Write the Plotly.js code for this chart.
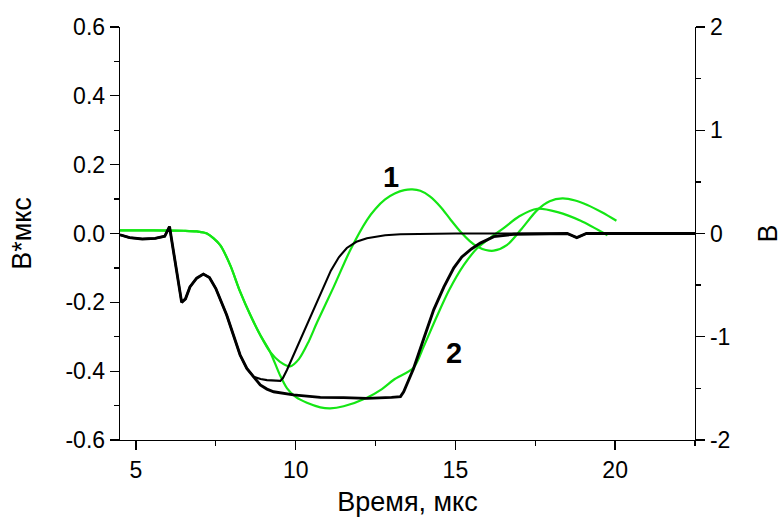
<!DOCTYPE html>
<html>
<head>
<meta charset="utf-8">
<script src="https://cdn.plot.ly/plotly-3.0.1.min.js"></script>
<style>html,body{margin:0;padding:0;background:#fff;}#chart{width:783px;height:525px;}</style>
</head>
<body>
<div id="chart"></div>
<script>
// ---- Data (time in мкс) ----
// Green curves, left axis (В*мкс)
var tGreen1 = [4.5, 5.5, 6.5, 6.9, 7.22, 7.63, 7.95, 8.26, 8.58, 8.89, 9.2, 9.5, 9.83, 10.1, 10.4, 10.67, 11.19, 11.71, 12.23, 12.5, 12.8, 13.1, 13.4, 13.65, 13.9, 14.2, 14.53, 14.85, 15.16, 15.45, 15.68, 15.95, 16.2, 16.62, 17.04, 17.56, 17.95, 18.35, 18.75, 19.13, 19.6, 20.04];
var vGreen1 = [0.009, 0.009, 0.008, 0.006, 0.0, -0.033, -0.092, -0.169, -0.237, -0.295, -0.344, -0.372, -0.386, -0.365, -0.315, -0.258, -0.155, -0.048, 0.039, 0.072, 0.099, 0.116, 0.126, 0.128, 0.124, 0.108, 0.078, 0.04, 0.005, -0.022, -0.038, -0.048, -0.05, -0.033, 0.01, 0.068, 0.094, 0.102, 0.096, 0.083, 0.061, 0.037];

var tGreen2 = [4.5, 5.5, 6.5, 6.9, 7.22, 7.63, 7.95, 8.26, 8.58, 8.89, 9.2, 9.5, 9.73, 10.0, 10.35, 10.77, 11.08, 11.5, 12.23, 12.7, 13.07, 13.69, 14.0, 14.4, 14.8, 15.26, 15.68, 16.1, 16.5, 17.0, 17.56, 18.2, 18.92, 19.76];
var vGreen2 = [0.009, 0.009, 0.008, 0.006, 0.0, -0.033, -0.092, -0.169, -0.237, -0.295, -0.344, -0.41, -0.45, -0.475, -0.492, -0.505, -0.508, -0.502, -0.477, -0.452, -0.425, -0.39, -0.33, -0.245, -0.165, -0.092, -0.043, -0.012, 0.015, 0.05, 0.072, 0.062, 0.037, -0.005];

// Black curves, right axis (В)
var tBlack1 = [4.5, 4.8, 5.2, 5.6, 5.9, 6.05, 6.43, 6.55, 6.69, 6.9, 7.11, 7.3, 7.5, 7.63, 7.84, 8.05, 8.26, 8.47, 8.68, 8.9, 9.1, 9.52, 9.6, 9.73, 10.14, 10.56, 10.85, 11.1, 11.35, 11.6, 11.9, 12.23, 12.8, 13.28, 15.0, 18.5, 18.8, 19.1, 22.5];
var vBlack1 = [-0.013, -0.04, -0.053, -0.047, -0.027, 0.067, -0.667, -0.633, -0.517, -0.433, -0.393, -0.427, -0.533, -0.627, -0.79, -0.983, -1.177, -1.307, -1.387, -1.41, -1.42, -1.427, -1.4, -1.32, -1.03, -0.74, -0.53, -0.36, -0.23, -0.14, -0.08, -0.045, -0.017, -0.007, 0.0, 0.0, -0.04, 0.0, 0.0];

var tBlack2 = [4.5, 4.8, 5.2, 5.6, 5.9, 6.05, 6.43, 6.55, 6.69, 6.9, 7.11, 7.3, 7.5, 7.63, 7.84, 8.05, 8.26, 8.47, 8.68, 8.89, 9.1, 9.31, 9.93, 10.77, 11.5, 12.23, 13.0, 13.28, 13.38, 13.69, 14.01, 14.32, 14.64, 14.95, 15.2, 15.5, 15.78, 16.2, 16.83, 18.5, 18.8, 19.1, 22.5];
var vBlack2 = [-0.013, -0.04, -0.053, -0.047, -0.027, 0.067, -0.667, -0.633, -0.517, -0.433, -0.393, -0.427, -0.533, -0.627, -0.79, -0.983, -1.177, -1.307, -1.387, -1.467, -1.507, -1.533, -1.563, -1.587, -1.59, -1.597, -1.587, -1.58, -1.533, -1.307, -1.017, -0.74, -0.517, -0.333, -0.227, -0.15, -0.093, -0.03, -0.007, 0.0, -0.04, 0.0, 0.0];

// Tick labels
var xTickVals = [5, 10, 15, 20];
var xTickText = ['5', '10', '15', '20'];
var yTickVals = [-0.6, -0.4, -0.2, 0, 0.2, 0.4, 0.6];
var yTickText = ['-0.6', '-0.4', '-0.2', '0.0', '0.2', '0.4', '0.6'];
var y2TickVals = [-2, -1, 0, 1, 2];
var y2TickText = ['-2', '-1', '0', '1', '2'];
var xMinor = [7.5, 12.5, 17.5, 22.5];
var yMinor = [-0.5, -0.3, -0.1, 0.1, 0.3, 0.5];
var y2Minor = [-1.5, -0.5, 0.5, 1.5];

var GREEN = '#14e614';
var FONT = 'Liberation Sans, Arial, sans-serif';

var traces = [
  {x: tGreen1, y: vGreen1, type: 'scatter', mode: 'lines', yaxis: 'y',
   line: {color: GREEN, width: 2.2, shape: 'spline', smoothing: 0.8}, hoverinfo: 'skip'},
  {x: tGreen2, y: vGreen2, type: 'scatter', mode: 'lines', yaxis: 'y',
   line: {color: GREEN, width: 2.2, shape: 'spline', smoothing: 0.8}, hoverinfo: 'skip'},
  {x: tBlack2, y: vBlack2, type: 'scatter', mode: 'lines', yaxis: 'y2',
   line: {color: '#000', width: 2.9}, hoverinfo: 'skip'},
  {x: tBlack1, y: vBlack1, type: 'scatter', mode: 'lines', yaxis: 'y2',
   line: {color: '#000', width: 2.1}, hoverinfo: 'skip'}
];

var axisCommon = {
  showline: true, linecolor: '#000', linewidth: 1.3,
  ticks: 'outside', ticklen: 9, tickwidth: 1.3, tickcolor: '#000',
  showgrid: false, zeroline: false,
  tickfont: {family: FONT, size: 23, color: '#000'}
};

var layout = {
  width: 783, height: 525,
  margin: {l: 120, r: 88, t: 27, b: 85},
  paper_bgcolor: '#fff', plot_bgcolor: '#fff',
  showlegend: false,
  font: {family: FONT, color: '#000'},
  xaxis: Object.assign({}, axisCommon, {
    range: [4.5, 22.5],
    tickmode: 'array', tickvals: xTickVals, ticktext: xTickText,
    minor: {tickmode: 'array', tickvals: xMinor, ticks: 'outside', ticklen: 5, tickwidth: 1.3, tickcolor: '#000', showgrid: false},
    title: {text: 'Время, мкс', font: {family: FONT, size: 27, color: '#000'}, standoff: 10}
  }),
  yaxis: Object.assign({}, axisCommon, {
    range: [-0.6, 0.6],
    tickmode: 'array', tickvals: yTickVals, ticktext: yTickText,
    minor: {tickmode: 'array', tickvals: yMinor, ticks: 'outside', ticklen: 5, tickwidth: 1.3, tickcolor: '#000', showgrid: false},
    title: {text: 'В*мкс', font: {family: FONT, size: 27, color: '#000'}, standoff: 26}
  }),
  yaxis2: Object.assign({}, axisCommon, {
    range: [-2, 2], overlaying: 'y', side: 'right',
    tickmode: 'array', tickvals: y2TickVals, ticktext: y2TickText,
    minor: {tickmode: 'array', tickvals: y2Minor, ticks: 'outside', ticklen: 5, tickwidth: 1.3, tickcolor: '#000', showgrid: false},
    title: {text: 'В', font: {family: FONT, size: 27, color: '#000'}, standoff: 36}
  }),
  annotations: [
    {x: 12.99, y: 0.164, xref: 'x', yref: 'y', text: '<b>1</b>', showarrow: false,
     font: {family: FONT, size: 29, color: '#000'}},
    {x: 14.94, y: -0.347, xref: 'x', yref: 'y', text: '<b>2</b>', showarrow: false,
     font: {family: FONT, size: 29, color: '#000'}}
  ]
};

Plotly.newPlot('chart', traces, layout, {staticPlot: true, displayModeBar: false});
</script>
</body>
</html>
